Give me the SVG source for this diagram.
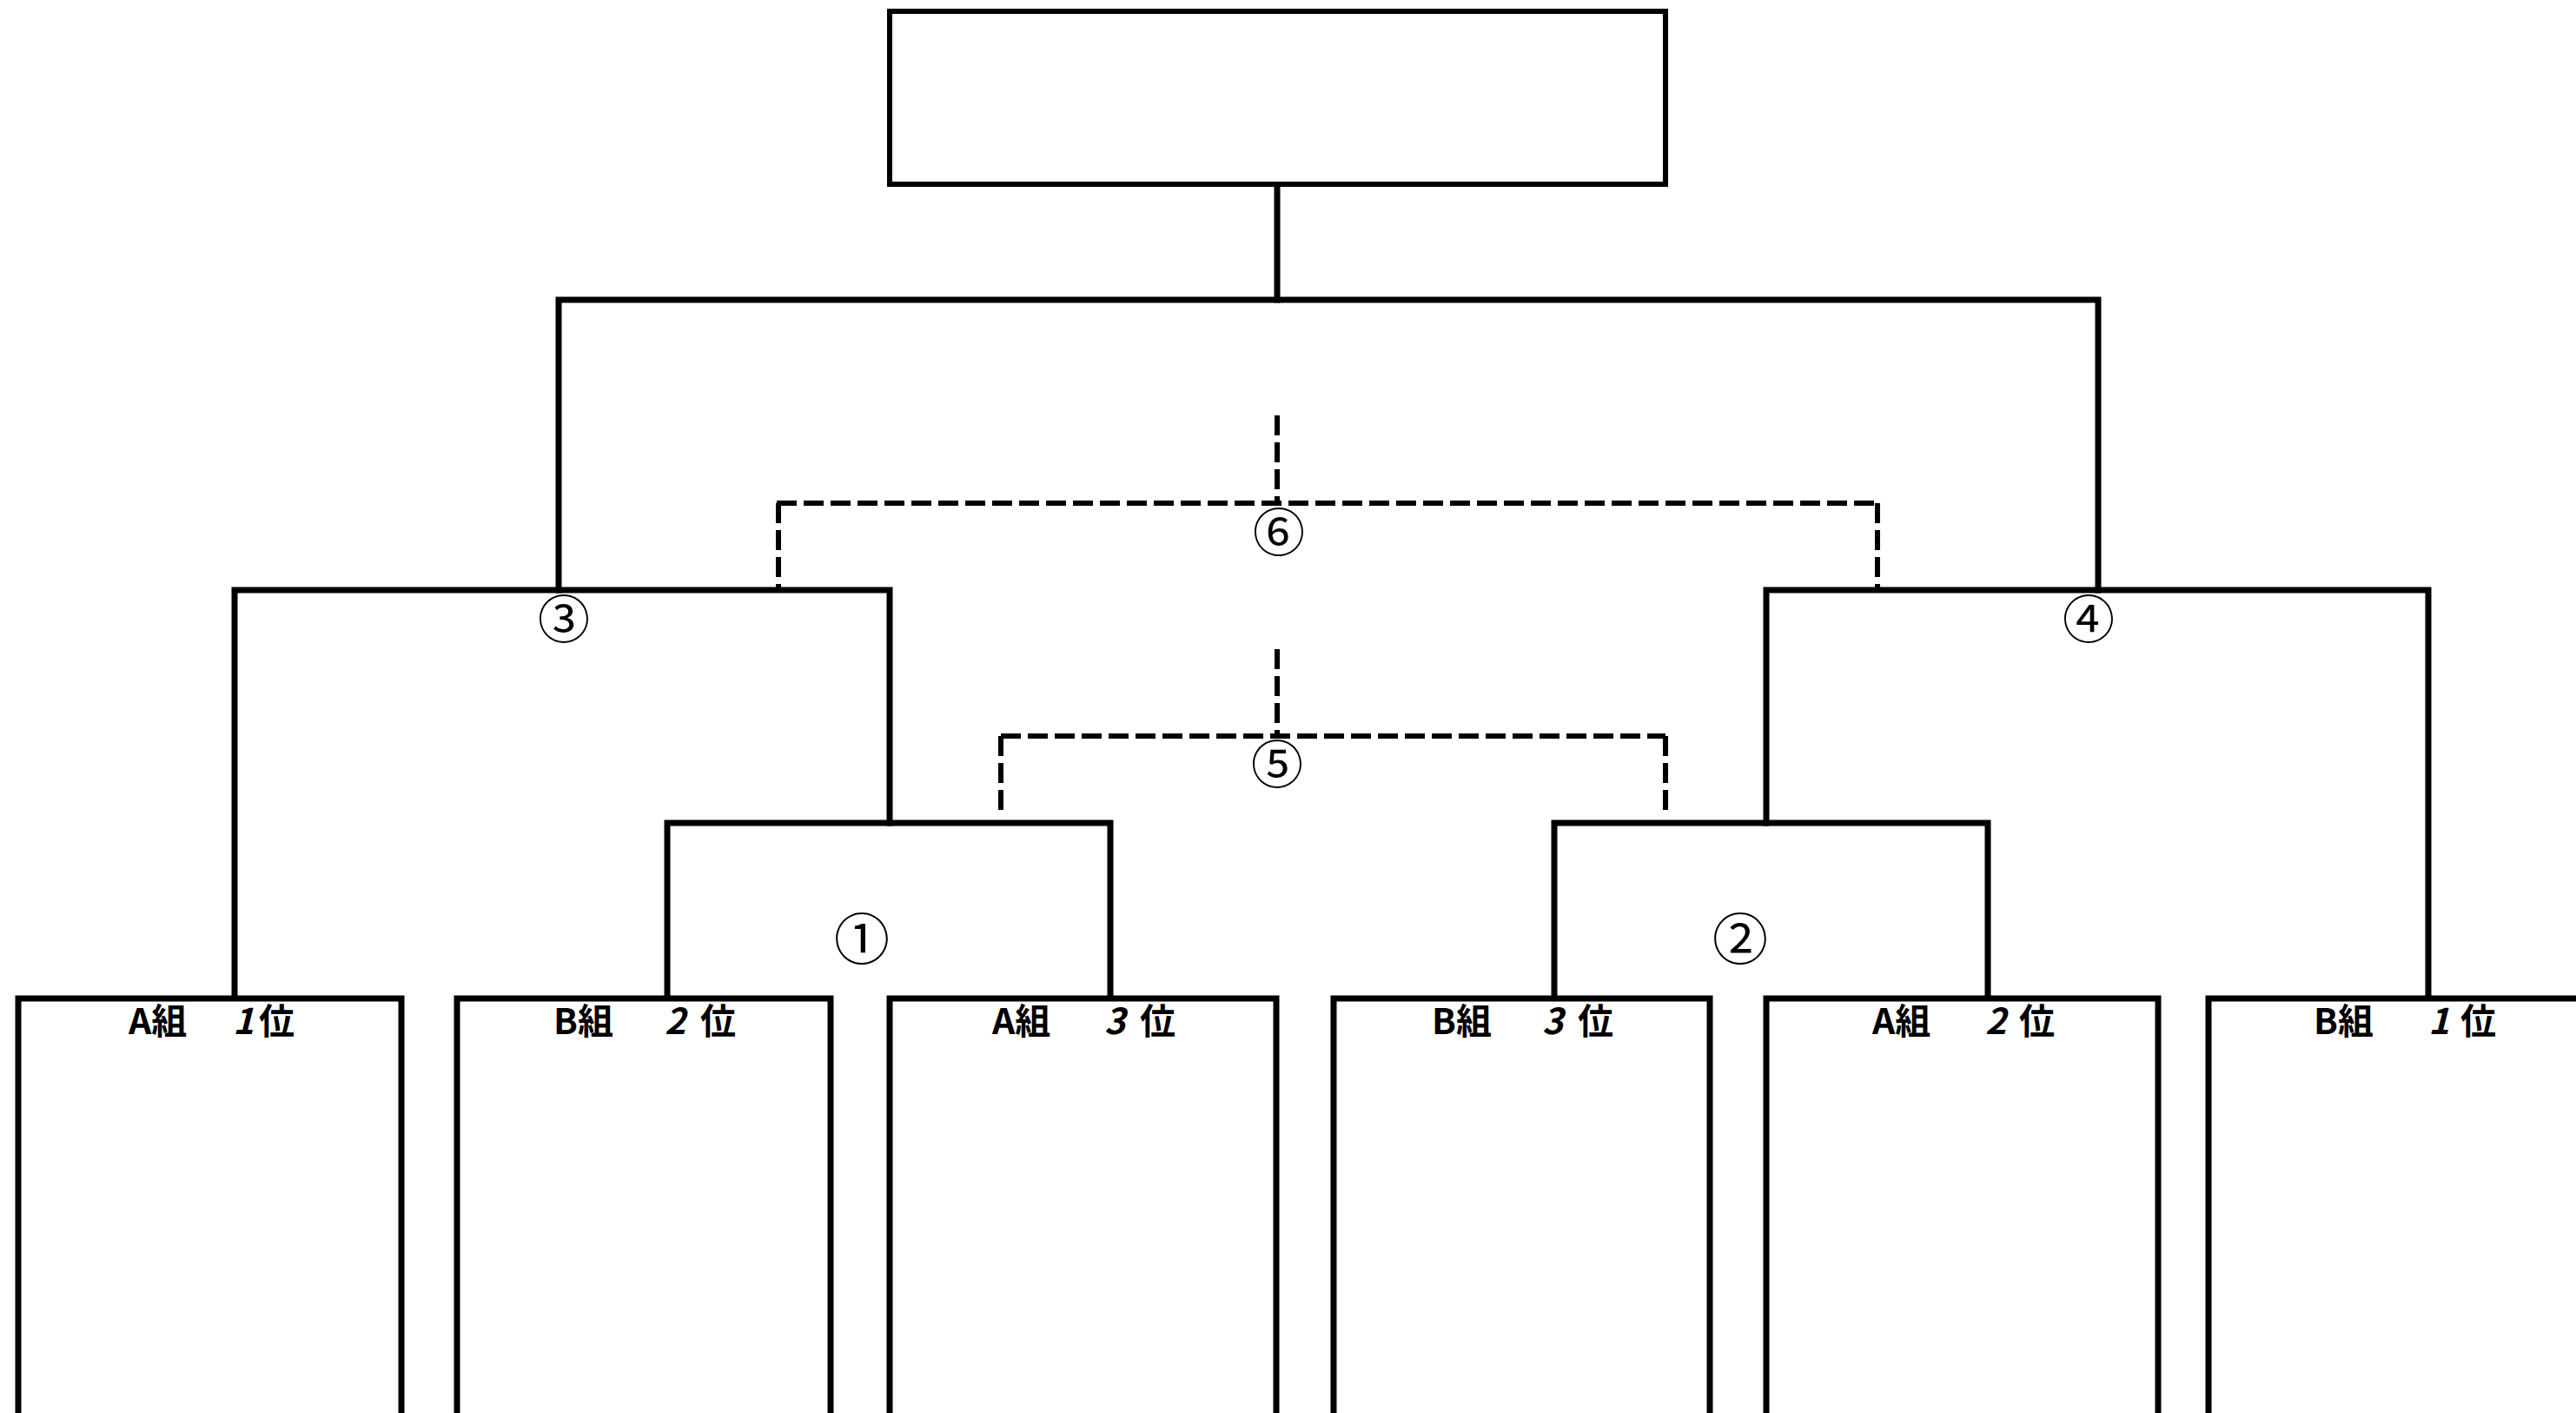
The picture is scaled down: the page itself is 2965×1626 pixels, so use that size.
<svg xmlns="http://www.w3.org/2000/svg" width="2965" height="1626" viewBox="0 0 2965 1626">
<style>
.box{fill:#fff;stroke:#000;stroke-width:7}
.ln{fill:none;stroke:#000;stroke-width:7;stroke-linejoin:miter;stroke-linecap:square}
.dash{fill:none;stroke:#000;stroke-width:6;stroke-dasharray:23 8}
.lbl{font-family:"Noto Sans CJK JP","Noto Sans CJK SC",sans-serif;font-size:41px;font-weight:bold;fill:#000}
.dg{font-style:italic}
.num{font-family:"Noto Sans CJK JP","Noto Sans CJK SC",sans-serif;fill:#000;text-anchor:middle}
</style>
<rect width="2965" height="1626" fill="#fff"/>
<g id="connectors">
<line class="ln" x1="1470" y1="212" x2="1470" y2="345"/>
<polyline class="ln" points="643,679 643,345 2415,345 2415,679"/>
<polyline class="ln" points="270,1149 270,679 1024,679 1024,947"/>
<polyline class="ln" points="2033,947 2033,679 2795,679 2795,1149"/>
<polyline class="ln" points="768,1149 768,947 1278,947 1278,1149"/>
<polyline class="ln" points="1789,1149 1789,947 2288,947 2288,1149"/>
<line class="dash" x1="1470" y1="478" x2="1470" y2="579"/>
<line class="dash" x1="894" y1="579" x2="2161" y2="579"/>
<line class="dash" x1="896" y1="579" x2="896" y2="676"/>
<line class="dash" x1="2161" y1="579" x2="2161" y2="676"/>
<line class="dash" x1="1470" y1="747" x2="1470" y2="847"/>
<line class="dash" x1="1152" y1="847" x2="1917" y2="847"/>
<line class="dash" x1="1152" y1="847" x2="1152" y2="940"/>
<line class="dash" x1="1917" y1="847" x2="1917" y2="940"/>
</g>
<g id="final">
<rect x="1024" y="13" width="893" height="199" fill="#fff" stroke="#000" stroke-width="6"/>
</g>
<g id="box-a1">
<rect class="box" x="21" y="1149" width="441" height="520"/>
<text class="lbl" y="1190"><tspan x="148">A組　</tspan><tspan class="dg" x="268">1</tspan><tspan x="298">位</tspan></text>
</g>
<g id="box-b2">
<rect class="box" x="526" y="1149" width="430" height="520"/>
<text class="lbl" y="1190"><tspan x="637">B組　</tspan><tspan class="dg" x="765">2</tspan><tspan x="806">位</tspan></text>
</g>
<g id="box-a3">
<rect class="box" x="1024" y="1149" width="445" height="520"/>
<text class="lbl" y="1190"><tspan x="1142">A組　</tspan><tspan class="dg" x="1271">3</tspan><tspan x="1312">位</tspan></text>
</g>
<g id="box-b3">
<rect class="box" x="1535" y="1149" width="433" height="520"/>
<text class="lbl" y="1190"><tspan x="1648">B組　</tspan><tspan class="dg" x="1775">3</tspan><tspan x="1816">位</tspan></text>
</g>
<g id="box-a2">
<rect class="box" x="2033" y="1149" width="451" height="520"/>
<text class="lbl" y="1190"><tspan x="2155">A組　</tspan><tspan class="dg" x="2285">2</tspan><tspan x="2324">位</tspan></text>
</g>
<g id="box-b1">
<rect class="box" x="2542" y="1149" width="500" height="520"/>
<text class="lbl" y="1190"><tspan x="2663">B組　</tspan><tspan class="dg" x="2795">1</tspan><tspan x="2832">位</tspan></text>
</g>
<g id="match-labels">
<text class="num" x="992" y="1104" font-size="64">①</text>
<text class="num" x="2003" y="1104" font-size="64">②</text>
<text class="num" x="649" y="735" font-size="60">③</text>
<text class="num" x="2404" y="735" font-size="60">④</text>
<text class="num" x="1470" y="902" font-size="60">⑤</text>
<text class="num" x="1472" y="635" font-size="60">⑥</text>
</g>
</svg>
